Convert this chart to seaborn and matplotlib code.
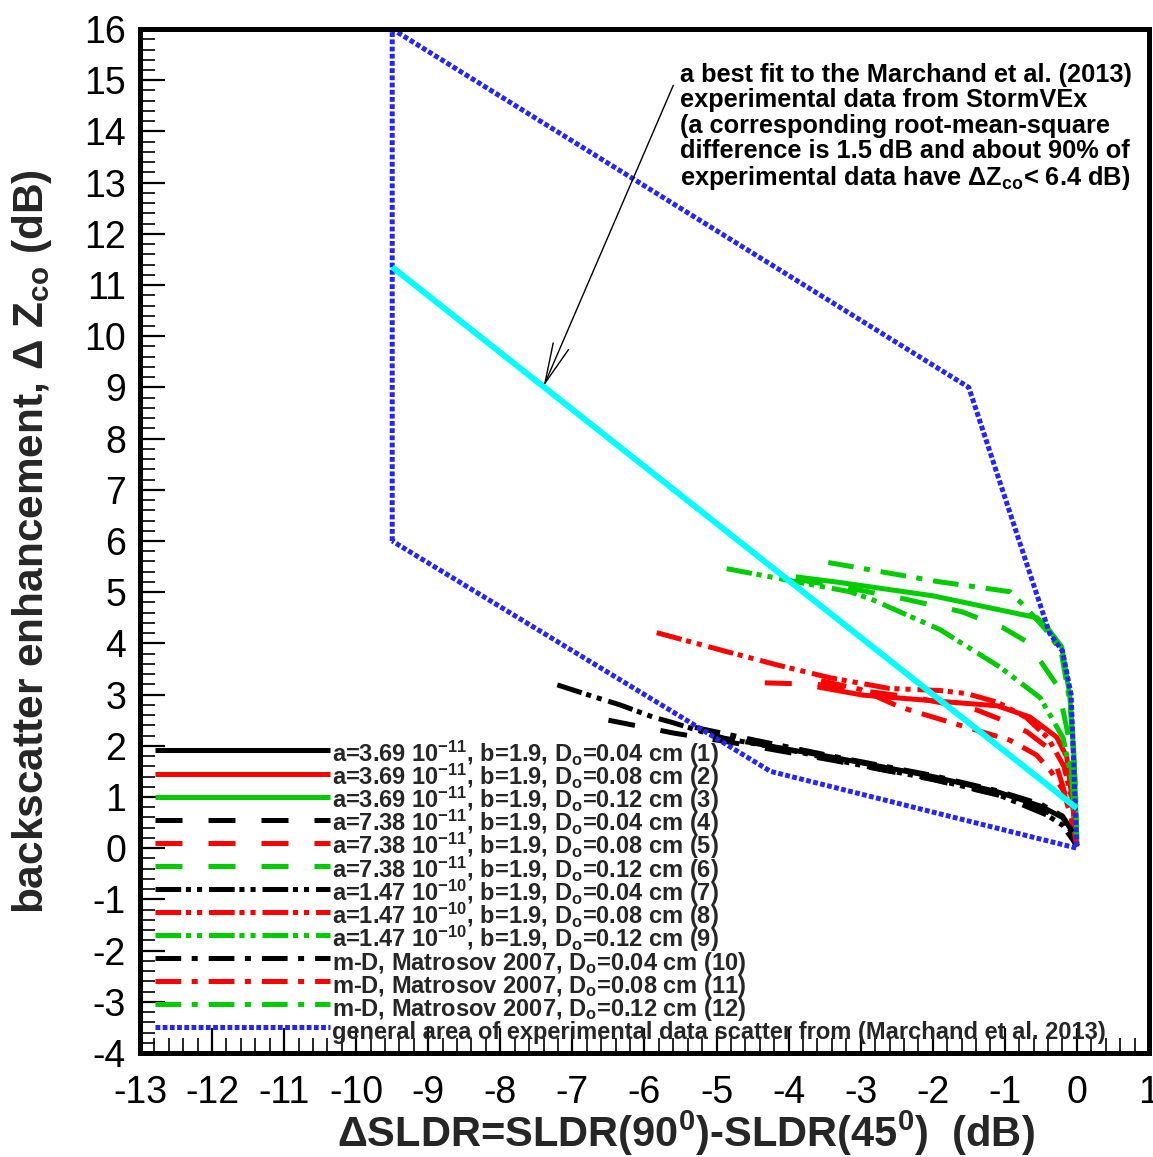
import matplotlib
matplotlib.use("Agg")
import matplotlib.pyplot as plt
from matplotlib.ticker import MultipleLocator
import seaborn as sns

# ---------------------------------------------------------------------------
# Model curves: dSLDR (x, dB) vs backscatter enhancement dZco (y, dB)
# ---------------------------------------------------------------------------
# (1) a=3.69e-11, D0=0.04 cm
x1 = [-4.6, -3.4, -2.0, -1.1, -0.5, -0.2, -0.07, 0.0]
y1 = [2.08, 1.78, 1.40, 1.10, 0.82, 0.60, 0.35, 0.05]
# (2) a=3.69e-11, D0=0.08 cm
x2 = [-3.6, -2.97, -2.0, -1.1, -0.65, -0.28, -0.14, -0.08, -0.03, 0.0]
y2 = [3.15, 2.99, 2.88, 2.78, 2.56, 2.17, 1.78, 1.10, 0.50, 0.06]
# (3) a=3.69e-11, D0=0.12 cm
x3 = [-3.9, -3.29, -2.0, -0.55, -0.38, -0.21, -0.10, -0.04, 0.0]
y3 = [5.30, 5.19, 4.93, 4.50, 4.25, 3.93, 3.00, 1.80, 0.10]
# (4) a=7.38e-11, D0=0.04 cm
x4 = [-6.5, -5.6, -4.6, -3.4, -2.0, -1.1, -0.5, -0.2, -0.06, 0.0]
y4 = [2.50, 2.25, 2.02, 1.72, 1.34, 1.04, 0.77, 0.55, 0.30, 0.05]
# (5) a=7.38e-11, D0=0.08 cm
x5 = [-4.33, -3.6, -3.0, -2.2, -1.39, -1.03, -0.69, -0.42, -0.28, -0.19, -0.08, 0.0]
y5 = [3.23, 3.20, 3.08, 2.93, 2.70, 2.50, 2.27, 1.98, 1.59, 1.19, 0.60, 0.05]
# (6) a=7.38e-11, D0=0.12 cm
x6 = [-3.9, -3.3, -2.4, -1.6, -1.03, -0.69, -0.47, -0.26, -0.12, -0.04, 0.0]
y6 = [5.25, 5.12, 4.87, 4.62, 4.31, 4.03, 3.58, 3.15, 2.20, 1.00, 0.05]
# (7) a=1.47e-10, D0=0.04 cm
x7 = [-7.21, -6.66, -6.34, -5.88, -5.6, -5.19, -4.9, -4.0, -3.0, -2.0, -1.1, -0.42, -0.2, -0.05, 0.0]
y7 = [3.19, 2.94, 2.80, 2.56, 2.45, 2.27, 2.15, 1.92, 1.62, 1.35, 1.05, 0.65, 0.45, 0.15, 0.03]
# (8) a=1.47e-10, D0=0.08 cm
x8 = [-5.83, -4.86, -4.16, -3.43, -2.6, -1.9, -1.53, -1.1, -0.7, -0.4, -0.18, -0.06, 0.0]
y8 = [4.21, 3.84, 3.58, 3.33, 3.12, 3.08, 3.02, 2.85, 2.55, 2.15, 1.60, 0.90, 0.05]
# (9) a=1.47e-10, D0=0.12 cm
x9 = [-4.86, -3.84, -3.15, -2.83, -1.90, -1.07, -0.51, -0.19, -0.07, 0.0]
y9 = [5.46, 5.19, 5.01, 4.85, 4.27, 3.54, 2.94, 2.15, 1.33, 0.06]
# (10) Matrosov 2007 m-D, D0=0.04 cm
x10 = [-5.3, -4.5, -3.4, -2.0, -1.1, -0.5, -0.2, -0.05, 0.0]
y10 = [2.36, 2.12, 1.80, 1.42, 1.12, 0.86, 0.63, 0.30, 0.05]
# (11) Matrosov 2007 m-D, D0=0.08 cm
x11 = [-3.55, -3.0, -2.46, -2.09, -1.5, -0.93, -0.56, -0.37, -0.19, -0.08, 0.0]
y11 = [3.27, 3.10, 2.76, 2.60, 2.35, 2.11, 1.82, 1.52, 1.13, 0.60, 0.05]
# (12) Matrosov 2007 m-D, D0=0.12 cm
x12 = [-3.45, -1.94, -0.93, -0.75, -0.45, -0.22, -0.09, -0.02, 0.0]
y12 = [5.58, 5.21, 5.01, 4.76, 4.30, 3.85, 2.80, 1.20, 0.05]

# Outline of the experimental scatter (Marchand et al. 2013)
area_x = [-9.5, -9.5, -1.5, -0.38, -0.2, -0.08, 0.0, -4.25, -9.5]
area_y = [6.0, 16.0, 9.0, 4.2, 3.85, 3.0, 0.0, 1.5, 6.0]

# Best fit to the StormVEx data
fit_x = [-9.5, 0.0]
fit_y = [11.35, 0.78]

labels = [
    r"a=3.69 10$^{-11}$, b=1.9, D$_{\mathrm{o}}$=0.04 cm (1)",
    r"a=3.69 10$^{-11}$, b=1.9, D$_{\mathrm{o}}$=0.08 cm (2)",
    r"a=3.69 10$^{-11}$, b=1.9, D$_{\mathrm{o}}$=0.12 cm (3)",
    r"a=7.38 10$^{-11}$, b=1.9, D$_{\mathrm{o}}$=0.04 cm (4)",
    r"a=7.38 10$^{-11}$, b=1.9, D$_{\mathrm{o}}$=0.08 cm (5)",
    r"a=7.38 10$^{-11}$, b=1.9, D$_{\mathrm{o}}$=0.12 cm (6)",
    r"a=1.47 10$^{-10}$, b=1.9, D$_{\mathrm{o}}$=0.04 cm (7)",
    r"a=1.47 10$^{-10}$, b=1.9, D$_{\mathrm{o}}$=0.08 cm (8)",
    r"a=1.47 10$^{-10}$, b=1.9, D$_{\mathrm{o}}$=0.12 cm (9)",
    r"m-D, Matrosov 2007, D$_{\mathrm{o}}$=0.04 cm (10)",
    r"m-D, Matrosov 2007, D$_{\mathrm{o}}$=0.08 cm (11)",
    r"m-D, Matrosov 2007, D$_{\mathrm{o}}$=0.12 cm (12)",
]
area_label = "general area of experimental data scatter from (Marchand et al. 2013)"

# ---------------------------------------------------------------------------
sns.set_theme(style="white")
plt.rcParams.update({
    "font.family": ["Liberation Sans", "DejaVu Sans"],
    "mathtext.fontset": "custom",
    "mathtext.rm": "Liberation Sans:bold",
    "mathtext.it": "Liberation Sans:italic:bold",
    "mathtext.bf": "Liberation Sans:bold",
    "mathtext.sf": "Liberation Sans:bold",
    "axes.unicode_minus": False,
    "lines.scale_dashes": False,
    "lines.solid_capstyle": "butt",
    "lines.dash_capstyle": "butt",
})

PX = 0.72  # points per pixel at 100 dpi
SOLID = "-"
DASHED = (0, (27 * PX, 26 * PX))
DASH_DOT_DOT = (0, (25.7 * PX, 4.7 * PX, 5.1 * PX, 6.0 * PX, 5.1 * PX, 6.9 * PX))
DASH_DOT = (0, (25.7 * PX, 10.5 * PX, 6.0 * PX, 11.0 * PX))
DOTTED = (0, (4.8 * PX, 2.4 * PX))

BLACK, RED, GREEN = "#000000", "#ff0000", "#00cc00"
BLUE, CYAN = "#2424ff", "#00ffff"
LW = 5 * PX

series = [
    (x1, y1, BLACK, SOLID), (x2, y2, RED, SOLID), (x3, y3, GREEN, SOLID),
    (x4, y4, BLACK, DASHED), (x5, y5, RED, DASHED), (x6, y6, GREEN, DASHED),
    (x7, y7, BLACK, DASH_DOT_DOT), (x8, y8, RED, DASH_DOT_DOT), (x9, y9, GREEN, DASH_DOT_DOT),
    (x10, y10, BLACK, DASH_DOT), (x11, y11, RED, DASH_DOT), (x12, y12, GREEN, DASH_DOT),
]

fig = plt.figure(figsize=(11.53, 11.57), dpi=100)
ax = fig.add_axes([0.1214, 0.0899, 0.8751, 0.8850])

for (xs, ys, col, ls), lab in zip(series, labels):
    sns.lineplot(x=xs, y=ys, ax=ax, color=col, linestyle=ls, linewidth=LW,
                 sort=False, estimator=None, label=lab, legend=False)

sns.lineplot(x=area_x, y=area_y, ax=ax, color=BLUE, linestyle=DOTTED,
             linewidth=5 * PX, sort=False, estimator=None, label=area_label,
             legend=False)
sns.lineplot(x=fit_x, y=fit_y, ax=ax, color=CYAN, linewidth=6 * PX,
             sort=False, estimator=None, legend=False)

# Axes, ticks, frame
ax.set_xlim(-13, 1)
ax.set_ylim(-4, 16)
ax.set_xticks(range(-13, 2))
ax.set_yticks(range(-4, 17))
ax.xaxis.set_minor_locator(MultipleLocator(0.2))
ax.yaxis.set_minor_locator(MultipleLocator(0.2))
ax.tick_params(which="major", direction="in", length=18, width=1.6,
               labelsize=27, color="black", labelcolor="black",
               bottom=True, left=True, top=False, right=False)
ax.tick_params(axis="x", which="major", pad=15.5)
ax.tick_params(axis="y", which="major", pad=10)
ax.tick_params(which="minor", direction="in", length=11, width=1.2,
               color="black", bottom=True, left=True, top=False, right=False)
for sp in ax.spines.values():
    sp.set_linewidth(3.6)
    sp.set_color("black")
ax.grid(False)

ax.set_xlabel(r"ΔSLDR=SLDR(90$^{0}$)-SLDR(45$^{0}$)  (dB)",
              fontsize=30, fontweight="bold")
ax.set_ylabel(r"backscatter enhancement, Δ Z$_{\mathrm{co}}$ (dB)",
              fontsize=30.5, fontweight="bold")
ax.xaxis.set_label_coords(0.541, -0.054)
ax.yaxis.set_label_coords(-0.085, 0.499)

# Annotation for the best-fit line
note = ("a best fit to the Marchand et al. (2013)\n"
        "experimental data from StormVEx\n"
        "(a corresponding root-mean-square\n"
        "difference is 1.5 dB and about 90% of\n"
        r"experimental data have ΔZ$_{\mathrm{co}}$< 6.4 dB)")
ax.text(-5.51, 15.33, note, ha="left", va="top", fontsize=18.3,
        fontweight="bold", linespacing=1.06, color="black")
ax.annotate("", xy=(-7.4, 9.02), xytext=(-5.6, 14.9),
            arrowprops=dict(arrowstyle="->,head_length=2.9,head_width=0.6",
                            lw=1.0, color="black", shrinkA=0, shrinkB=0,
                            mutation_scale=10))

# Legend: fixed row height via a tall handle box, rows pulled together
handles, labs = ax.get_legend_handles_labels()
ax.legend(handles, labs, loc="lower left", bbox_to_anchor=(0.0149, 0.0068),
          frameon=False, prop=dict(family="Liberation Sans", weight="bold", size=17),
          handlelength=7.4, handleheight=1.6, handletextpad=0.1,
          borderpad=0, borderaxespad=0, labelspacing=-0.314)

fig.savefig("out.png", dpi=100)
